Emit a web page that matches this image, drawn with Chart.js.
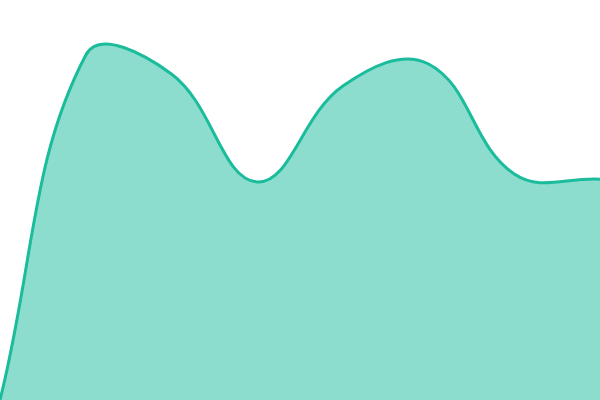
<!DOCTYPE html>
<html>
<head>
<meta charset="utf-8">
<script src="https://cdn.jsdelivr.net/npm/chart.js@4/dist/chart.umd.min.js"></script>
<style>
  html, body { margin: 0; padding: 0; background: #fff; }
  #wrap { width: 600px; height: 400px; }
</style>
</head>
<body>
<div id="wrap"><canvas id="areaChart"></canvas></div>
<script>
// Categories and values
const labels = ['1', '2', '3', '4', '5', '6', '7', '8'];
const values = [0, 86.2, 81.5, 54.5, 78.5, 84, 56.5, 55.2];

const ctx = document.getElementById('areaChart').getContext('2d');
const areaChart = new Chart(ctx, {
  type: 'line',
  data: {
    labels: labels,
    datasets: [{
      data: values,
      borderColor: 'rgb(26, 188, 156)',
      backgroundColor: 'rgba(26, 188, 156, 0.5)',
      borderWidth: 3,
      fill: true,
      tension: 0.4,
      pointRadius: 0,
    }],
  },
  options: {
    responsive: true,
    maintainAspectRatio: false,
    animation: false,
    layout: { padding: 0 },
    plugins: { legend: { display: false }, tooltip: { enabled: false } },
    scales: {
      x: { display: false, offset: false },
      y: { display: false, min: 0, max: 100 },
    },
  },
});
</script>
</body>
</html>
